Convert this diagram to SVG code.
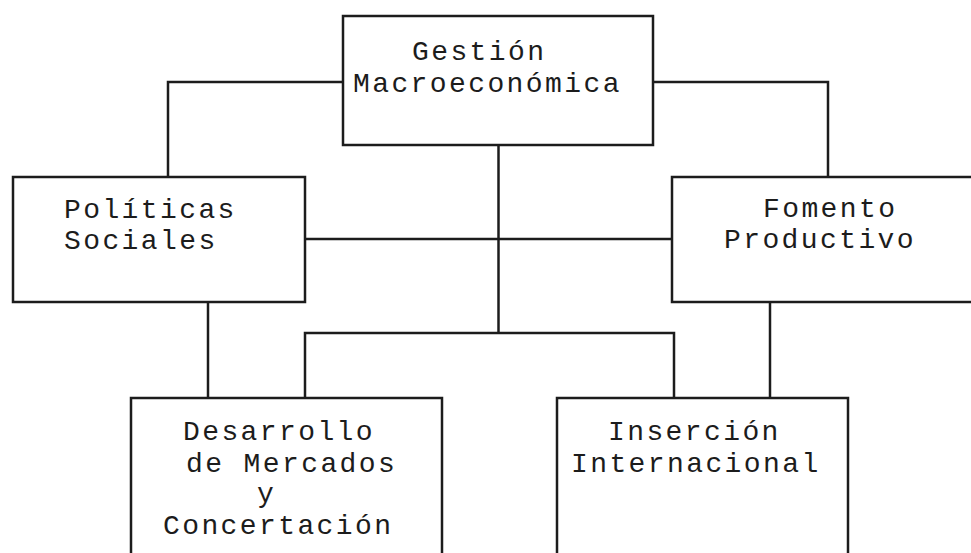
<svg xmlns="http://www.w3.org/2000/svg" width="971" height="553" viewBox="0 0 971 553">
  <style>
    .box { fill: #ffffff; stroke: #1c1c1c; stroke-width: 2.5; }
    .wire { fill: none; stroke: #1c1c1c; stroke-width: 2.5; stroke-linejoin: miter; }
    .label { font-family: "Liberation Mono", "Courier New", monospace; font-size: 28px; letter-spacing: 2.4px; fill: #1c1c1c; }
  </style>
  <rect x="0" y="0" width="971" height="553" fill="#ffffff"/>

  <g id="connectors">
    <polyline class="wire" points="343,82 168,82 168,177"/>
    <polyline class="wire" points="653,82 828,82 828,177"/>
    <line class="wire" x1="498.5" y1="145" x2="498.5" y2="333"/>
    <polyline class="wire" points="305,398 305,333 674,333 674,398"/>
    <line class="wire" x1="305" y1="239" x2="672" y2="239"/>
    <line class="wire" x1="208" y1="302" x2="208" y2="398"/>
    <line class="wire" x1="770" y1="302" x2="770" y2="398"/>
  </g>

  <g id="gestion">
    <rect class="box" x="343" y="16" width="310" height="129"/>
    <text class="label" x="412" y="60">Gestión</text>
    <text class="label" x="353" y="92">Macroeconómica</text>
  </g>

  <g id="politicas">
    <rect class="box" x="13" y="177" width="292" height="125"/>
    <text class="label" x="64" y="218">Políticas</text>
    <text class="label" x="64" y="249">Sociales</text>
  </g>

  <g id="fomento">
    <rect class="box" x="672" y="177" width="305" height="125"/>
    <text class="label" x="763" y="217">Fomento</text>
    <text class="label" x="724" y="248">Productivo</text>
  </g>

  <g id="desarrollo">
    <rect class="box" x="131" y="398" width="311" height="165"/>
    <text class="label" x="183" y="440">Desarrollo</text>
    <text class="label" x="186" y="472">de Mercados</text>
    <text class="label" x="257" y="502">y</text>
    <text class="label" x="163" y="534">Concertación</text>
  </g>

  <g id="insercion">
    <rect class="box" x="557" y="398" width="291" height="165"/>
    <text class="label" x="608" y="440">Inserción</text>
    <text class="label" x="571" y="472">Internacional</text>
  </g>
</svg>
